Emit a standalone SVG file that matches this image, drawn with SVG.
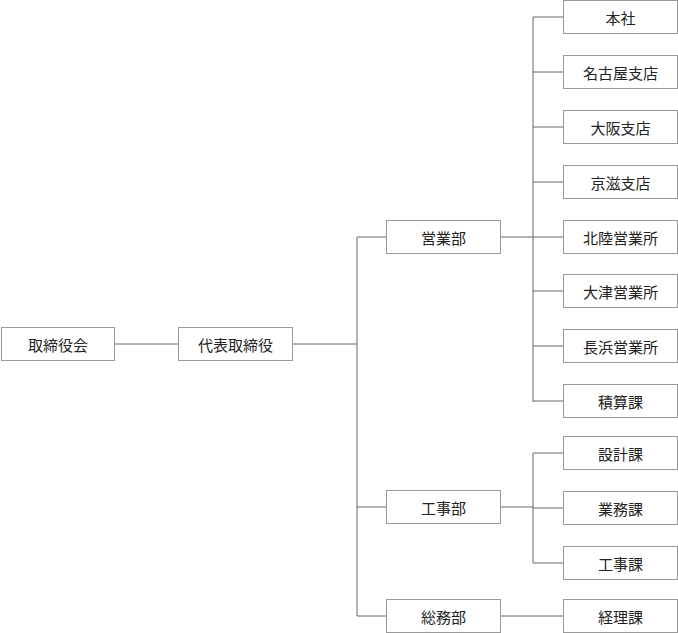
<svg xmlns="http://www.w3.org/2000/svg" width="678" height="633" viewBox="0 0 678 633">
<style>
.b rect{fill:#fff;stroke:#999;stroke-width:1}
.b text{font-family:"Noto Sans CJK JP","Noto Sans CJK SC",sans-serif;font-size:15px;fill:#222;text-anchor:middle;dominant-baseline:central}
#connectors path{fill:none;stroke:#666;stroke-width:1}
</style>
<rect width="678" height="633" fill="#fff"/>
<g id="connectors">
<path d="M114.5 344H178.5"/>
<path d="M292.5 344H357M357 237V616M357 237H386.5M357 507H386.5M357 616H386.5"/>
<path d="M500.5 237H533M533 17V402"/>
<path d="M533 17H563.5M533 72H563.5M533 127H563.5M533 182H563.5M533 237H563.5M533 291H563.5M533 346H563.5M533 401H563.5"/>
<path d="M500.5 507H533M533 453V563M533 453H563.5M533 508H563.5M533 563H563.5"/>
<path d="M500.5 616H563.5"/>
</g>
<g id="n-torishimariyakukai" class="b"><rect x="1.5" y="327.5" width="113" height="33"/><text x="58" y="344">取締役会</text></g>
<g id="n-daihyo" class="b"><rect x="178.5" y="327.5" width="114" height="33"/><text x="235.5" y="344">代表取締役</text></g>
<g id="n-eigyobu" class="b"><rect x="386.5" y="220.5" width="114" height="33"/><text x="443.5" y="237">営業部</text></g>
<g id="n-kojibu" class="b"><rect x="386.5" y="490.5" width="114" height="33"/><text x="443.5" y="507">工事部</text></g>
<g id="n-somubu" class="b"><rect x="386.5" y="599.5" width="114" height="33"/><text x="443.5" y="616">総務部</text></g>
<g id="n-honsha" class="b"><rect x="563.5" y="0.5" width="114" height="33"/><text x="620.5" y="17">本社</text></g>
<g id="n-nagoya" class="b"><rect x="563.5" y="55.5" width="114" height="33"/><text x="620.5" y="72">名古屋支店</text></g>
<g id="n-osaka" class="b"><rect x="563.5" y="110.5" width="114" height="33"/><text x="620.5" y="127">大阪支店</text></g>
<g id="n-keiji" class="b"><rect x="563.5" y="165.5" width="114" height="33"/><text x="620.5" y="182">京滋支店</text></g>
<g id="n-hokuriku" class="b"><rect x="563.5" y="220.5" width="114" height="33"/><text x="620.5" y="237">北陸営業所</text></g>
<g id="n-otsu" class="b"><rect x="563.5" y="274.5" width="114" height="33"/><text x="620.5" y="291">大津営業所</text></g>
<g id="n-nagahama" class="b"><rect x="563.5" y="329.5" width="114" height="33"/><text x="620.5" y="346">長浜営業所</text></g>
<g id="n-sekisan" class="b"><rect x="563.5" y="384.5" width="114" height="33"/><text x="620.5" y="401">積算課</text></g>
<g id="n-sekkei" class="b"><rect x="563.5" y="436.5" width="114" height="33"/><text x="620.5" y="453">設計課</text></g>
<g id="n-gyomu" class="b"><rect x="563.5" y="491.5" width="114" height="33"/><text x="620.5" y="508">業務課</text></g>
<g id="n-kojika" class="b"><rect x="563.5" y="546.5" width="114" height="33"/><text x="620.5" y="563">工事課</text></g>
<g id="n-keiri" class="b"><rect x="563.5" y="599.5" width="114" height="33"/><text x="620.5" y="616">経理課</text></g>
</svg>
